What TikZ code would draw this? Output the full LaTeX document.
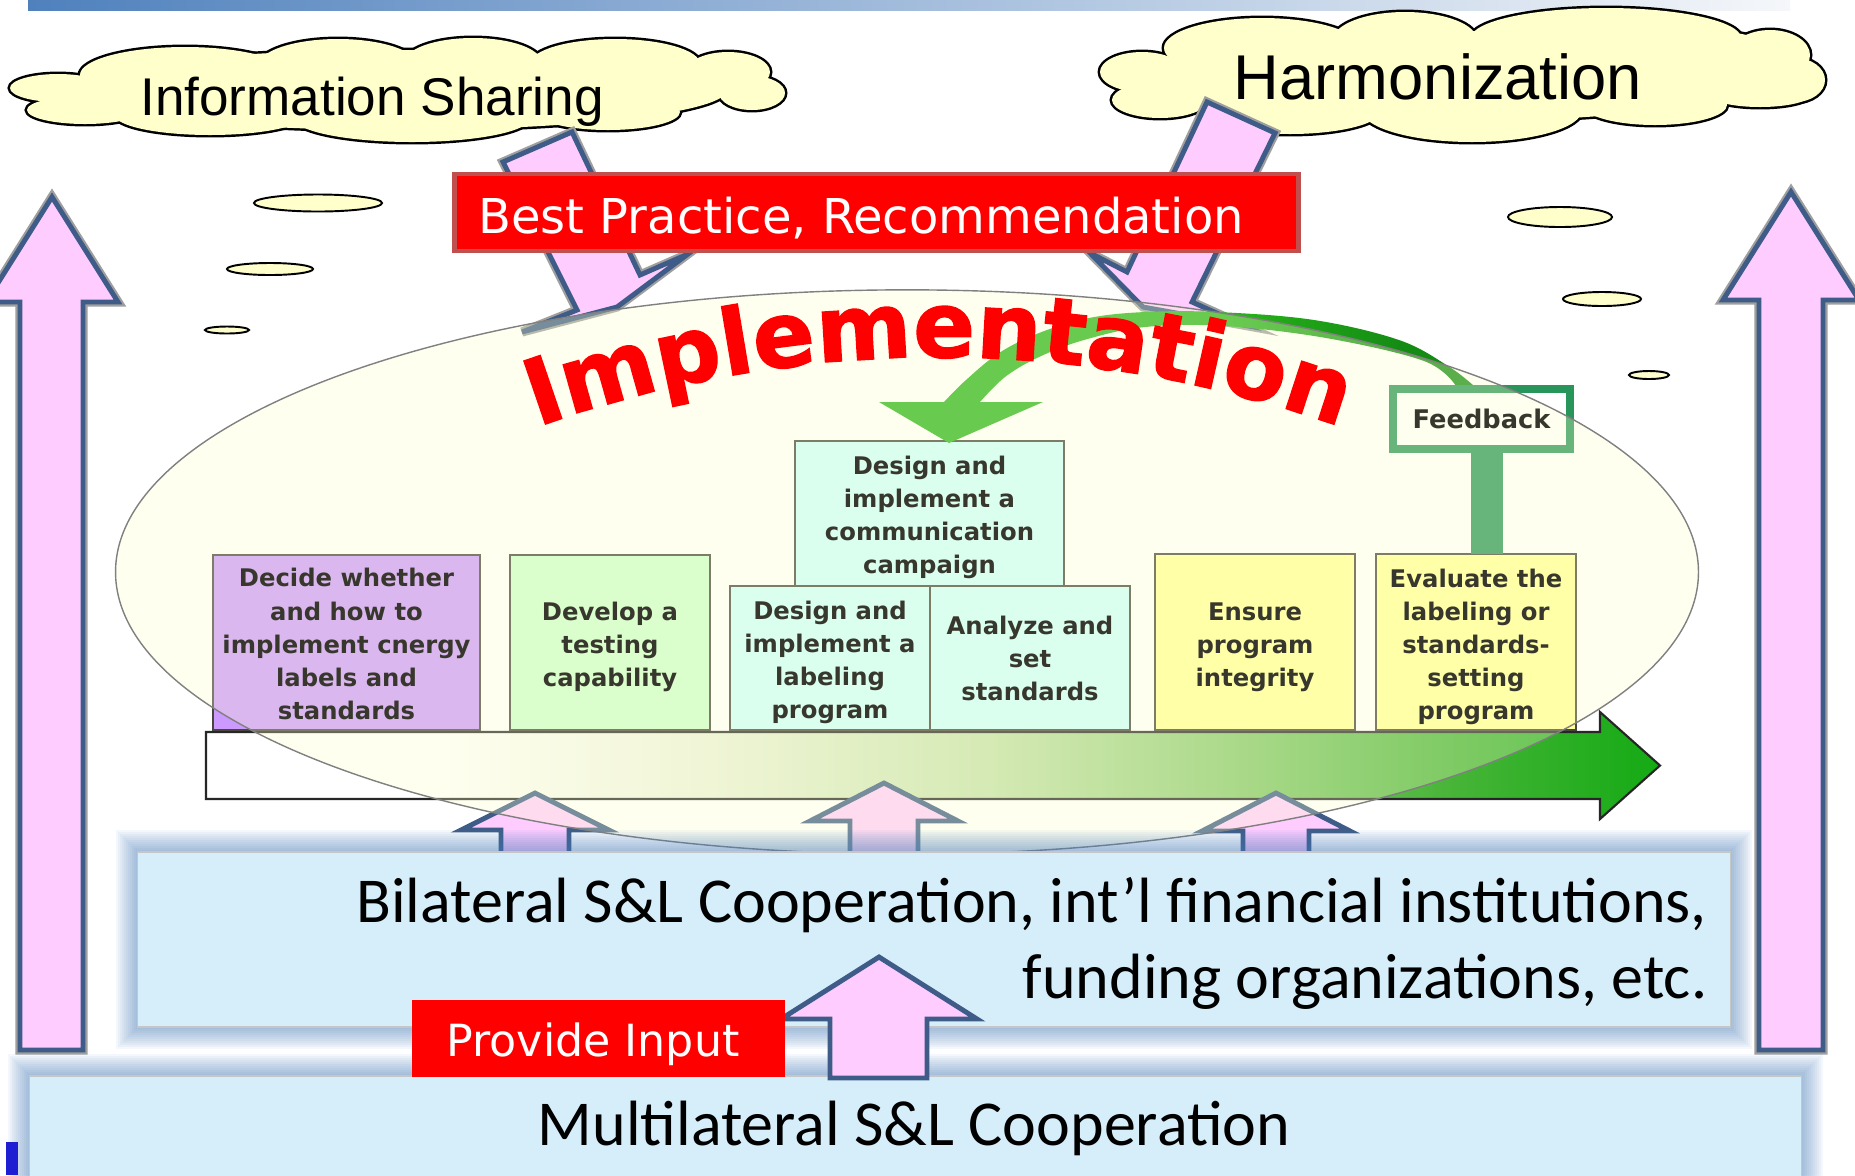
\documentclass[tikz,border=0pt]{standalone}
\usepackage{fontspec}
\usetikzlibrary{decorations.text}
\newfontfamily\arialf{Liberation Sans}
\newfontfamily\verd{DejaVu Sans}
\newfontfamily\implf[FakeBold=1.5]{DejaVu Sans Bold}
\newfontfamily\calib{Carlito}
\newcommand\boxfont{\verd\bfseries\fontsize{6.9}{9.4}\selectfont}
\newcommand\implfont{\implf\fontsize{26}{31}\selectfont}
\newcommand\bilfont{\calib\fontsize{18.2}{22}\selectfont}
\definecolor{pinkA}{RGB}{255,204,255}
\definecolor{arrblue}{RGB}{62,92,135}
\definecolor{cloudY}{RGB}{255,255,204}
\definecolor{bpred}{RGB}{255,0,0}
\definecolor{bpborder}{RGB}{192,80,77}
\definecolor{purpB}{RGB}{204,153,255}
\definecolor{greenB}{RGB}{204,255,204}
\definecolor{cyanB}{RGB}{204,255,255}
\definecolor{yelB}{RGB}{255,255,153}
\definecolor{fbgreen}{RGB}{40,150,90}
\definecolor{lblue}{RGB}{213,238,250}
\definecolor{glowB}{RGB}{79,129,189}
\definecolor{arcG}{RGB}{40,180,25}
\definecolor{arcGd}{RGB}{20,140,20}
\definecolor{txtG}{RGB}{55,55,45}
\definecolor{boxline}{RGB}{70,70,60}
\definecolor{topbarA}{RGB}{79,129,189}
\definecolor{topbarB}{RGB}{245,247,250}
\definecolor{ellfill}{RGB}{255,255,204}
\definecolor{markblue}{RGB}{30,30,210}
\definecolor{flowA}{RGB}{235,242,220}
\definecolor{flowB}{RGB}{195,225,170}
\definecolor{flowC}{RGB}{130,200,105}
\definecolor{flowD}{RGB}{70,180,55}
\definecolor{flowE}{RGB}{20,170,20}
\pgfdeclarehorizontalshading{flowshade}{100bp}{color(0bp)=(white); color(33bp)=(white); color(42bp)=(flowA); color(52bp)=(flowB); color(61bp)=(flowC); color(68bp)=(flowD); color(75bp)=(flowE); color(100bp)=(flowE)}
\pgfdeclarehorizontalshading{arcshade}{100bp}{color(0bp)=(arcG); color(52bp)=(arcG); color(68bp)=(arcGd); color(100bp)=(arcGd)}
\begin{document}
\begin{tikzpicture}[x=0.01cm,y=-0.01cm,
  pinkarrow/.style={fill=pinkA, draw=arrblue, line width=1.4pt, line join=miter},
  rimarrow/.style={pinkarrow, preaction={draw=gray!75, line width=2.6pt, line join=miter}},
  redbox/.style={fill=bpred, draw=bpborder, line width=1.3pt, inner sep=0pt},
  procbox/.style={draw=boxline, line width=0.45pt, inner sep=0pt},
  proctext/.style={text=txtG, font=\boxfont, align=center, inner sep=0pt},
  smallell/.style={fill=cloudY, draw=black, line width=0.55pt},
  puffline/.style={draw=black, line width=1.4pt},
  pufffill/.style={fill=cloudY},
  glowrect/.style={fill=glowB, fill opacity=0.06},
  lbluebox/.style={fill=lblue, draw=gray!45, line width=0.5pt, inner sep=0pt}]
\useasboundingbox (0,0) rectangle (1855,1175);
\clip (0,0) rectangle (1855,1175);
\fill[white] (0,0) rectangle (1855,1175);
% top bar
\shade[left color=topbarA, right color=topbarB] (28,0) rectangle (1790,10);
% clouds (union of puffs)
\def\cloudL{397/90/330/40, 185/75/105/28, 338/66/80/27, 473/62/68/24, 615/64/85/25, 728/72/42/20, 752/93/33/17, 608/112/72/18, 412/118/118/24, 210/115/95/20, 85/110/58/14, 58/88/48/14}
\def\cloudR{1462/76/300/45, 1262/48/98/30, 1405/40/72/28, 1606/38/135/30, 1770/55/40/25, 1795/80/30/22, 1760/95/50/12, 1655/105/72/20, 1472/110/110/32, 1290/110/92/24, 1160/100/48/18, 1142/72/42/20, 1745/75/55/25, 1730/45/30/12}
\foreach \cx/\cy/\rx/\ry in \cloudL {\path[puffline] (\cx,\cy) ellipse [x radius={\rx*0.01cm}, y radius={\ry*0.01cm}];}
\foreach \cx/\cy/\rx/\ry in \cloudL {\path[pufffill] (\cx,\cy) ellipse [x radius={\rx*0.01cm}, y radius={\ry*0.01cm}];}
\foreach \cx/\cy/\rx/\ry in \cloudR {\path[puffline] (\cx,\cy) ellipse [x radius={\rx*0.01cm}, y radius={\ry*0.01cm}];}
\foreach \cx/\cy/\rx/\ry in \cloudR {\path[pufffill] (\cx,\cy) ellipse [x radius={\rx*0.01cm}, y radius={\ry*0.01cm}];}
\node[anchor=base, font=\arialf\fontsize{15.1}{18}\selectfont, inner sep=0pt] (infoT) at (372,115) {Information Sharing};
\node[anchor=base, font=\arialf\fontsize{18}{22}\selectfont, inner sep=0pt] (harmT) at (1438,99) {Harmonization};
% thought bubbles
\draw[smallell] (318,203) ellipse [x radius=0.64cm, y radius=0.085cm];
\draw[smallell] (270,269) ellipse [x radius=0.43cm, y radius=0.06cm];
\draw[smallell] (227,330) ellipse [x radius=0.22cm, y radius=0.035cm];
\draw[smallell] (1560,217) ellipse [x radius=0.52cm, y radius=0.10cm];
\draw[smallell] (1602,299) ellipse [x radius=0.39cm, y radius=0.07cm];
\draw[smallell] (1649,375) ellipse [x radius=0.20cm, y radius=0.04cm];
% big side arrows
\draw[rimarrow] (20,1050) -- (20,302) -- (-14,302) -- (52,197) -- (118,302) -- (83,302) -- (83,1050) -- cycle;
\draw[rimarrow] (1759,1050) -- (1759,300) -- (1723,300) -- (1791,192) -- (1859,300) -- (1823,300) -- (1823,1050) -- cycle;
% diagonal arrows
\draw[rimarrow] (503,162) -- (572,132) -- (640,275) -- (688,254) -- (617,307) -- (522,332) -- (577,310) -- cycle;
\draw[rimarrow] (1207,102) -- (1275,133) -- (1192,302) -- (1243,325) -- (1143,307) -- (1090,253) -- (1127,272) -- cycle;
% best practice
\node[redbox, minimum width=8.43cm, minimum height=0.77cm] (bp) at (876.5,212.5) {};
\node[anchor=base, text=white, font=\verd\fontsize{13.65}{16}\selectfont, inner sep=0pt] (bpT) at (861,233) {Best Practice, Recommendation};
% flow arrow
\shade[shading=flowshade, draw=black!85, line width=0.6pt] (206,732) -- (1600,732) -- (1600,712) -- (1660,765.5) -- (1600,819) -- (1600,799) -- (206,799) -- cycle;
% process boxes
\node[procbox, fill=purpB, minimum width=2.67cm, minimum height=1.75cm] (b1) at (346.5,642.5) {};
\node[procbox, fill=greenB, minimum width=2.00cm, minimum height=1.75cm] (b2) at (610,642.5) {};
\node[procbox, fill=cyanB, minimum width=2.69cm, minimum height=1.45cm] (b3) at (929.5,513.5) {};
\node[procbox, fill=cyanB, minimum width=2.00cm, minimum height=1.44cm] (b4) at (830,658) {};
\node[procbox, fill=cyanB, minimum width=2.00cm, minimum height=1.44cm] (b5) at (1030,658) {};
\node[procbox, fill=yelB, minimum width=2.00cm, minimum height=1.76cm] (b6) at (1255,642) {};
\node[procbox, fill=yelB, minimum width=2.00cm, minimum height=1.76cm] (b7) at (1476,642) {};
% green curved arrow
\shade[shading=arcshade] (1474,386) -- plot[smooth, tension=0.6] coordinates {(1474,386) (1448,366) (1399,340) (1314,320) (1217,312) (1145,312) (1089,318) (1039,333) (999,353) (966,380) (944,402)} -- (980,402) -- plot[smooth, tension=0.6] coordinates {(980,402) (1005,377) (1039,357) (1084,340) (1145,327) (1224,326) (1326,338) (1424,361) (1456,386)} -- cycle;
\fill[arcG] (879,402) -- (1043,402) -- (949,443) -- cycle;
% feedback
\fill[fbgreen] (1471,449) rectangle (1503,554);
\node[draw=fbgreen, line width=2.3pt, fill=white, minimum width=1.77cm, minimum height=0.60cm, inner sep=0pt] (fb) at (1481.5,419) {};
% small up arrows
\draw[pinkarrow] (501,866) -- (501,830) -- (461,830) -- (535,793) -- (609,830) -- (569,830) -- (569,866) -- cycle;
\draw[pinkarrow] (850,866) -- (850,821) -- (810,821) -- (884,783) -- (958,821) -- (918,821) -- (918,866) -- cycle;
\draw[pinkarrow] (1243,866) -- (1243,831) -- (1202,831) -- (1276,793) -- (1350,831) -- (1309,831) -- (1309,866) -- cycle;
% ellipse overlay
\fill[ellfill, fill opacity=0.3] (907,572) ellipse [x radius=7.91cm, y radius=2.82cm];
\draw[gray, line width=0.4pt] (907,572) ellipse [x radius=7.91cm, y radius=2.82cm];
% Implementation
\path[decorate, decoration={text along path, text={|\implfont\color{red}|Implementation}, text align=center}] (513,436) .. controls (787,331) and (1091,331) .. (1365,436);
% box texts
\node[proctext] (t1) at (346.5,644) {Decide whether\\and how to\\implement cnergy\\labels and\\standards};
\node[proctext] (t2) at (610,647) {Develop a\\testing\\capability};
\node[proctext] (t3) at (929.5,517) {Design and\\implement a\\communication\\campaign};
\node[proctext] (t4) at (830,662) {Design and\\implement a\\labeling\\program};
\node[proctext] (t5) at (1030,658.5) {Analyze and\\set\\standards};
\node[proctext] (t6) at (1255,647) {Ensure\\program\\integrity};
\node[proctext] (t7) at (1476,647) {Evaluate the\\labeling or\\standards-\\setting\\program};
\node[text=txtG, font=\verd\bfseries\fontsize{7.3}{9}\selectfont, inner sep=0pt] (fbT) at (1481.5,419) {Feedback};
% glows
\foreach \g in {22,20,18,16,14,12,10,8,6,4,2} {
  \fill[glowrect] ({138-\g},{852-\g}) rectangle ({1730+\g},{1027+\g});
  \fill[glowrect] ({30-\g},{1076-\g}) rectangle ({1801+\g},1200);
}
\node[lbluebox, minimum width=15.92cm, minimum height=1.75cm] (bil) at (934,939.5) {};
\node[lbluebox, minimum width=17.71cm, minimum height=1.30cm] (mul) at (915.5,1141) {};
\node[anchor=base east, font=\bilfont, inner sep=0pt] (bilT1) at (1708,922) {Bilateral S\&L Cooperation, int’l financial institutions,};
\node[anchor=base east, font=\bilfont, inner sep=0pt] (bilT2) at (1708,998) {funding organizations, etc.};
\node[anchor=base, font=\bilfont, inner sep=0pt] (mulT) at (914,1145) {Multilateral S\&L Cooperation};
% bottom up arrow
\draw[pinkarrow] (830,1078) -- (830,1019) -- (781,1019) -- (879,957) -- (977,1019) -- (927,1019) -- (927,1078) -- cycle;
% provide input
\node[fill=bpred, minimum width=3.73cm, minimum height=0.77cm, inner sep=0pt] (pi) at (598.5,1038.5) {};
\node[anchor=base, text=white, font=\verd\fontsize{12.6}{15}\selectfont, inner sep=0pt] (piT) at (593,1056) {Provide Input};
\fill[markblue] (6,1142) rectangle (18,1175);
\end{tikzpicture}
\end{document}
